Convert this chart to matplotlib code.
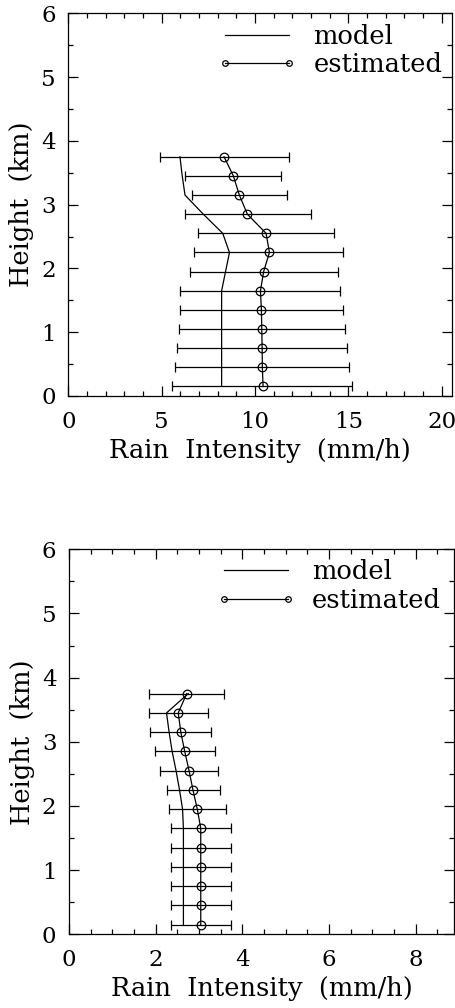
import matplotlib
matplotlib.use("Agg")
import matplotlib.pyplot as plt
from matplotlib.ticker import MultipleLocator

# heights of the retrieval layers (km)
heights = [0.15, 0.45, 0.75, 1.05, 1.35, 1.65, 1.95, 2.25, 2.55, 2.85, 3.15, 3.45, 3.75]

# upper case: heavier rain
model_a = [8.21, 8.21, 8.21, 8.21, 8.21, 8.21, 8.42, 8.63, 8.27, 7.23, 6.25, 6.10, 5.98]
est_a = [10.43, 10.39, 10.38, 10.36, 10.34, 10.29, 10.46, 10.77, 10.59, 9.59, 9.16, 8.84, 8.34]
lo_a = [5.57, 5.70, 5.80, 5.93, 6.00, 5.96, 6.50, 6.75, 6.93, 6.23, 6.63, 6.25, 4.93]
hi_a = [15.21, 15.05, 14.91, 14.79, 14.71, 14.57, 14.46, 14.71, 14.25, 12.98, 11.71, 11.39, 11.80]

# lower case: light rain
model_b = [2.64, 2.64, 2.64, 2.64, 2.64, 2.64, 2.62, 2.55, 2.47, 2.38, 2.31, 2.25, 2.75]
est_b = [3.04, 3.04, 3.04, 3.04, 3.04, 3.04, 2.96, 2.86, 2.77, 2.67, 2.58, 2.52, 2.715]
lo_b = [2.35, 2.35, 2.35, 2.35, 2.35, 2.35, 2.31, 2.25, 2.11, 1.98, 1.88, 1.85, 1.84]
hi_b = [3.73, 3.73, 3.73, 3.73, 3.73, 3.73, 3.62, 3.48, 3.44, 3.36, 3.28, 3.20, 3.58]

plt.rcParams['font.family'] = ['DejaVu Serif']
plt.rcParams['font.size'] = 18.5

fig = plt.figure(figsize=(4.56, 10.08), dpi=100)
ax1 = fig.add_axes([68.3 / 456, 1 - 396 / 1008, 383.4 / 456, 382.7 / 1008])
ax2 = fig.add_axes([69 / 456, 1 - 934.3 / 1008, 385.3 / 456, 385 / 1008])


def draw_panel(ax, model, est, lo, hi, xmax, xmajor, xminor, legend_anchor):
    ax.plot(model, heights, color='black', lw=0.9, label='model')
    xerr = [[e - l for e, l in zip(est, lo)], [h - e for e, h in zip(est, hi)]]
    ax.errorbar(est, heights, xerr=xerr, fmt='none', ecolor='black',
                elinewidth=0.9, capsize=3.5, capthick=0.9)
    ax.plot(est, heights, color='black', lw=0.9, marker='o', ms=6.2,
            mfc='none', mec='black', mew=0.9, label='estimated')

    ax.set_xlim(0, xmax)
    ax.set_ylim(0, 6)
    ax.xaxis.set_major_locator(MultipleLocator(xmajor))
    ax.xaxis.set_minor_locator(MultipleLocator(xminor))
    ax.yaxis.set_major_locator(MultipleLocator(1))
    ax.yaxis.set_minor_locator(MultipleLocator(0.5))
    ax.tick_params(which='both', direction='in', top=True, right=True,
                   width=0.9, color='black', labelsize=16.5)
    ax.tick_params(which='major', length=7.5)
    ax.tick_params(which='minor', length=3.8)
    ax.tick_params(axis='x', pad=10.5)
    ax.tick_params(axis='y', pad=9)
    for sp in ax.spines.values():
        sp.set_linewidth(0.9)

    ax.set_xlabel('Rain  Intensity  (mm/h)', labelpad=4)
    ax.set_ylabel('Height  (km)', labelpad=5)

    ax.legend(loc='upper left', bbox_to_anchor=legend_anchor, frameon=False,
              handlelength=3.1, handletextpad=0.63, labelspacing=0.15,
              markerscale=0.65, numpoints=2, borderaxespad=0, borderpad=0)


draw_panel(ax1, model_a, est_a, lo_a, hi_a, 20.53, 5, 1, (0.389, 0.973))
draw_panel(ax2, model_b, est_b, lo_b, hi_b, 8.89, 2, 0.5, (0.382, 0.9756))

fig.savefig('out.png', dpi=100)
